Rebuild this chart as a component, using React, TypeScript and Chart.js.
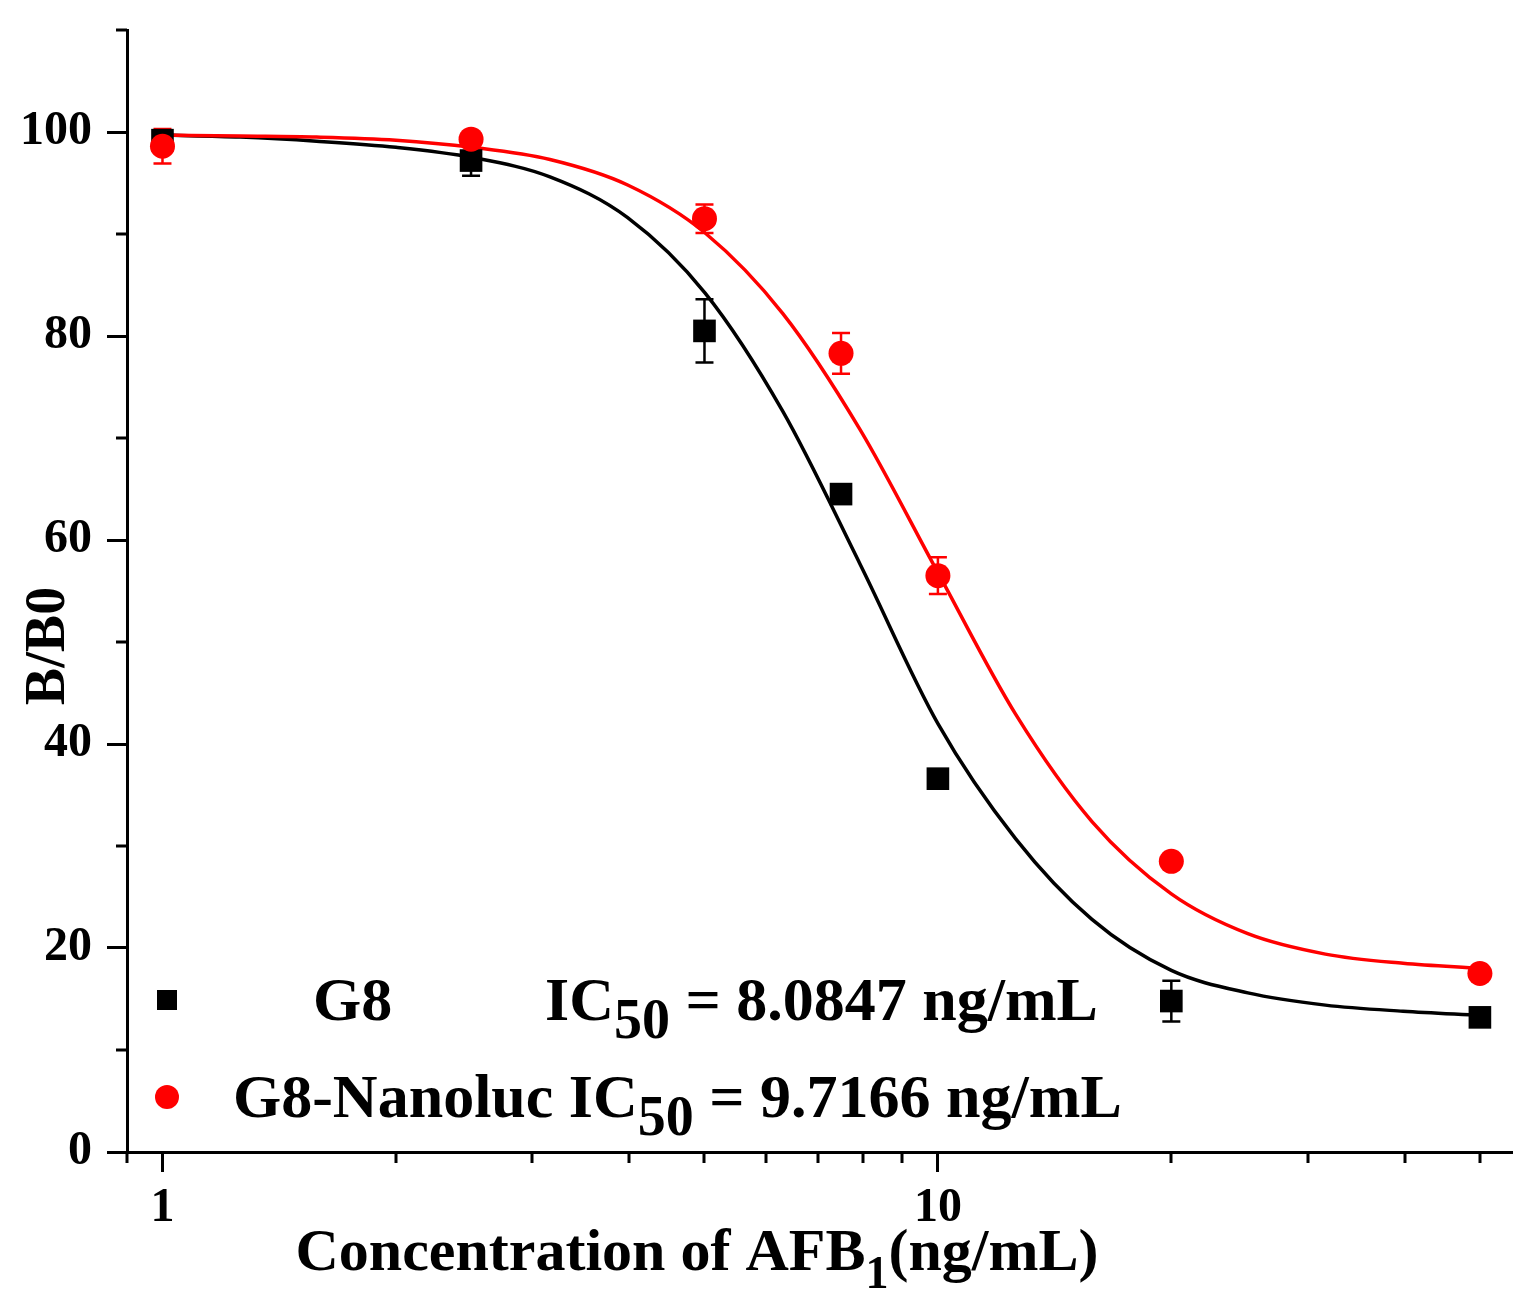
import React, { useEffect, useRef } from "react";
import { Chart, registerables } from "chart.js";

Chart.register(...registerables);

// ---- data ----
const concentrations = [1, 2.5, 5, 7.5, 10, 20, 50];
const g8Means = [99.2, 97.2, 80.5, 64.5, 36.6, 14.8, 13.2];
const g8Errors = [0, 1.5, 3.1, 0, 0, 2.0, 0];
const nanolucMeans = [98.6, 99.3, 91.5, 78.3, 56.5, 28.5, 17.5];
const nanolucErrors = [1.7, 0, 1.4, 2.0, 1.8, 0, 0];

// fitted curves: values at evenly spaced log positions
const fitX = [1, 1.26, 1.58, 2, 2.51, 3.16, 3.98, 5.01, 6.31, 7.94, 10, 12.6, 15.8, 20, 25.1, 31.6, 39.8, 50];
const g8FitY = [99.7, 99.5, 99.1, 98.5, 97.5, 95.6, 91.6, 84.2, 72.6, 57.6, 42.0, 30.7, 22.8, 17.8, 15.6, 14.4, 13.8, 13.4];
const nanolucFitY = [99.7, 99.6, 99.5, 99.2, 98.5, 97.3, 94.8, 90.1, 82.2, 70.8, 56.8, 42.9, 32.4, 25.3, 21.4, 19.4, 18.5, 18.0];

// axes ticks
const xTickValues = [0.9, 1, 2, 3, 4, 5, 6, 7, 8, 9, 10, 20, 30, 40, 50];
const xLabelValues = [1, 10];
const yTickValues = [0, 10, 20, 30, 40, 50, 60, 70, 80, 90, 100, 110];
const yLabelValues = [0, 20, 40, 60, 80, 100];

// texts
const xTitleMain = "Concentration of AFB";
const xTitleSub = "1";
const xTitleTail = "(ng/mL)";
const yTitle = "B/B0";
const legendNames = ["G8", "G8-Nanoluc"];
const legendIC50 = ["8.0847", "9.7166"];

const RED = "#ff0000";
const BLACK = "#000000";
const FONT = '"Liberation Serif", "Times New Roman", Times, serif';

export default function App() {
  const ref = useRef<HTMLCanvasElement>(null);

  useEffect(() => {
    document.body.style.margin = "0";
    document.body.style.overflow = "hidden";
    const canvas = ref.current;
    if (!canvas) return;

    const decor = {
      id: "decor",
      beforeDatasetsDraw(chart: any) {
        const { ctx } = chart;
        const x = chart.scales.x;
        const y = chart.scales.y;
        const sets = [
          { means: g8Means, errs: g8Errors, color: BLACK },
          { means: nanolucMeans, errs: nanolucErrors, color: RED },
        ];
        ctx.save();
        ctx.lineWidth = 2.5;
        for (const s of sets) {
          ctx.strokeStyle = s.color;
          concentrations.forEach((c, i) => {
            const e = s.errs[i];
            if (!e) return;
            const px = x.getPixelForValue(c);
            const top = y.getPixelForValue(s.means[i] + e);
            const bot = y.getPixelForValue(s.means[i] - e);
            ctx.beginPath();
            ctx.moveTo(px, top);
            ctx.lineTo(px, bot);
            ctx.moveTo(px - 9, top);
            ctx.lineTo(px + 9, top);
            ctx.moveTo(px - 9, bot);
            ctx.lineTo(px + 9, bot);
            ctx.stroke();
          });
        }
        ctx.restore();
      },
      afterDraw(chart: any) {
        const { ctx, chartArea } = chart;
        const x = chart.scales.x;
        const y = chart.scales.y;
        ctx.save();
        // minor ticks
        ctx.strokeStyle = BLACK;
        ctx.lineWidth = 3;
        ctx.beginPath();
        xTickValues.forEach((v) => {
          if (xLabelValues.includes(v)) return;
          const px = Math.round(x.getPixelForValue(v));
          ctx.moveTo(px, chartArea.bottom);
          ctx.lineTo(px, chartArea.bottom + 11);
        });
        yTickValues.forEach((v) => {
          if (yLabelValues.includes(v)) return;
          const py = Math.round(y.getPixelForValue(v));
          ctx.moveTo(chartArea.left - 11, py);
          ctx.lineTo(chartArea.left, py);
        });
        ctx.stroke();

        ctx.fillStyle = BLACK;
        // x title
        const titleFont = `bold 60px ${FONT}`;
        const subFont = `bold 46px ${FONT}`;
        ctx.font = titleFont;
        const w1 = ctx.measureText(xTitleMain).width;
        const w3 = ctx.measureText(xTitleTail).width;
        ctx.font = subFont;
        const w2 = ctx.measureText(xTitleSub).width;
        const total = w1 + w2 + w3;
        let tx = 697 - total / 2;
        const tb = 1270;
        ctx.textAlign = "left";
        ctx.textBaseline = "alphabetic";
        ctx.font = titleFont;
        ctx.fillText(xTitleMain, tx, tb);
        tx += w1;
        ctx.font = subFont;
        ctx.fillText(xTitleSub, tx, tb + 18);
        tx += w2;
        ctx.font = titleFont;
        ctx.fillText(xTitleTail, tx, tb);

        // y title
        ctx.save();
        ctx.translate(64, 646);
        ctx.rotate(-Math.PI / 2);
        ctx.font = `bold 56px ${FONT}`;
        ctx.textAlign = "center";
        ctx.fillText(yTitle, 0, 0);
        ctx.restore();

        // legend
        const legFont = `bold 62px ${FONT}`;
        const legSub = `bold 56px ${FONT}`;
        // row 1
        ctx.fillStyle = BLACK;
        ctx.fillRect(157, 990, 20, 20);
        ctx.font = legFont;
        ctx.fillText(legendNames[0], 313, 1020);
        let lx = 545;
        ctx.fillText("IC", lx, 1020);
        lx += ctx.measureText("IC").width;
        ctx.font = legSub;
        ctx.fillText("50", lx, 1038);
        lx += ctx.measureText("50").width;
        ctx.font = legFont;
        ctx.fillText(` = ${legendIC50[0]} ng/mL`, lx, 1020);
        // row 2
        ctx.fillStyle = RED;
        ctx.beginPath();
        ctx.arc(167, 1097, 12, 0, Math.PI * 2);
        ctx.fill();
        ctx.fillStyle = BLACK;
        ctx.font = legFont;
        lx = 233;
        const r2 = `${legendNames[1]} IC`;
        ctx.fillText(r2, lx, 1117);
        lx += ctx.measureText(r2).width;
        ctx.font = legSub;
        ctx.fillText("50", lx, 1135);
        lx += ctx.measureText("50").width;
        ctx.font = legFont;
        ctx.fillText(` = ${legendIC50[1]} ng/mL`, lx, 1117);
        ctx.restore();
      },
    };

    const tickFont = { family: FONT, size: 48, weight: "bold" as const };

    const chart = new Chart(canvas, {
      type: "scatter",
      data: {
        datasets: [
          {
            label: "G8-Nanoluc",
            data: concentrations.map((c, i) => ({ x: c, y: nanolucMeans[i] })),
            pointStyle: "circle",
            pointRadius: 12.5,
            backgroundColor: RED,
            borderColor: RED,
            borderWidth: 0,
            showLine: false,
            order: 1,
          },
          {
            label: "G8",
            data: concentrations.map((c, i) => ({ x: c, y: g8Means[i] })),
            pointStyle: "rect",
            pointRadius: 16,
            backgroundColor: BLACK,
            borderColor: BLACK,
            borderWidth: 0,
            showLine: false,
            order: 2,
          },
          {
            label: "G8-Nanoluc fit",
            type: "line",
            data: fitX.map((c, i) => ({ x: c, y: nanolucFitY[i] })),
            borderColor: RED,
            borderWidth: 3.5,
            pointRadius: 0,
            fill: false,
            cubicInterpolationMode: "monotone",
            order: 3,
          } as any,
          {
            label: "G8 fit",
            type: "line",
            data: fitX.map((c, i) => ({ x: c, y: g8FitY[i] })),
            borderColor: BLACK,
            borderWidth: 3.5,
            pointRadius: 0,
            fill: false,
            cubicInterpolationMode: "monotone",
            order: 4,
          } as any,
        ],
      },
      options: {
        animation: false,
        responsive: false,
        devicePixelRatio: 1,
        layout: { padding: { top: 30, right: 19, left: 0, bottom: 0 } },
        plugins: { legend: { display: false }, tooltip: { enabled: false } },
        scales: {
          x: {
            type: "logarithmic",
            min: 0.9,
            max: 55,
            afterBuildTicks: (scale: any) => {
              scale.ticks = xTickValues.map((v) => ({ value: v }));
            },
            afterFit: (scale: any) => {
              scale.height = 164;
              scale.paddingLeft = 0;
              scale.paddingRight = 0;
            },
            border: { display: true, color: BLACK, width: 3 },
            grid: {
              display: true,
              drawOnChartArea: false,
              drawTicks: true,
              tickLength: 20,
              tickWidth: 3,
              tickColor: (ctx: any) =>
                ctx.tick && xLabelValues.includes(ctx.tick.value) ? BLACK : "rgba(0,0,0,0)",
            },
            ticks: {
              autoSkip: false,
              maxRotation: 0,
              minRotation: 0,
              padding: 8,
              color: BLACK,
              font: tickFont,
              callback: (v: any) => (xLabelValues.includes(Number(v)) ? String(v) : ""),
            },
            title: { display: false },
          },
          y: {
            type: "linear",
            min: 0,
            max: 110,
            afterBuildTicks: (scale: any) => {
              scale.ticks = yTickValues.map((v) => ({ value: v }));
            },
            afterFit: (scale: any) => {
              scale.width = 127;
              scale.paddingTop = 0;
              scale.paddingBottom = 0;
            },
            border: { display: true, color: BLACK, width: 3 },
            grid: {
              display: true,
              drawOnChartArea: false,
              drawTicks: true,
              tickLength: 20,
              tickWidth: 3,
              tickColor: (ctx: any) =>
                ctx.tick && yLabelValues.includes(ctx.tick.value) ? BLACK : "rgba(0,0,0,0)",
            },
            ticks: {
              autoSkip: false,
              padding: 15,
              color: BLACK,
              font: tickFont,
              callback: (v: any) => (yLabelValues.includes(Number(v)) ? String(v) : ""),
            },
            title: { display: false },
          },
        },
      },
      plugins: [decor],
    } as any);

    return () => chart.destroy();
  }, []);

  return (
    <canvas
      ref={ref}
      width={1531}
      height={1316}
      style={{ display: "block", width: 1531, height: 1316 }}
    />
  );
}
